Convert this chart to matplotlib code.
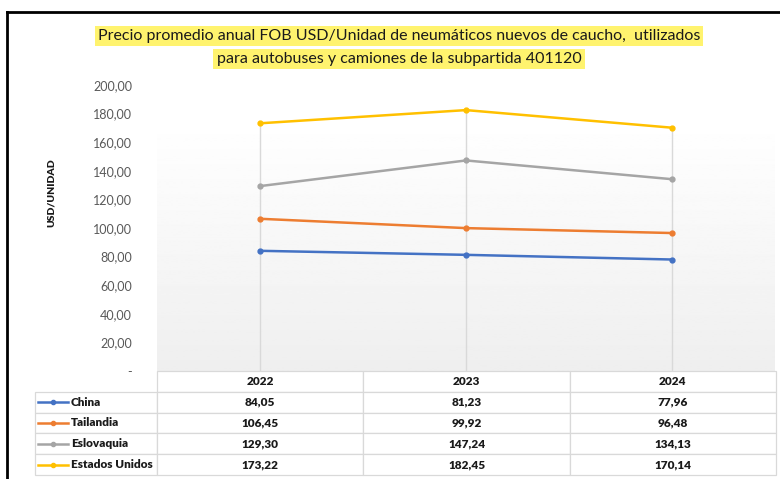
import matplotlib
matplotlib.use("Agg")
import matplotlib.pyplot as plt
import numpy as np
from matplotlib.lines import Line2D

years = ["2022", "2023", "2024"]
paises = ["China", "Tailandia", "Eslovaquia", "Estados Unidos"]
china = [84.05, 81.23, 77.96]
tailandia = [106.45, 99.92, 96.48]
eslovaquia = [129.30, 147.24, 134.13]
eeuu = [173.22, 182.45, 170.14]
colores = ["#4472c4", "#ed7d31", "#a5a5a5", "#ffc000"]
yticks = [0, 20, 40, 60, 80, 100, 120, 140, 160, 180, 200]

titulo1 = "Precio promedio anual FOB USD/Unidad de neumáticos nuevos de caucho,  utilizados"
titulo2 = "para autobuses y camiones de la subpartida 401120"

plt.rcParams['font.family'] = ['Lato', 'DejaVu Sans']

W, H = 780, 479
fig = plt.figure(figsize=(W / 100, H / 100), dpi=100)

# area del grafico en pixeles
x0, x1, ytop, ybot = 157, 775, 85, 371
ax = fig.add_axes([x0 / W, 1 - ybot / H, (x1 - x0) / W, (ybot - ytop) / H])

series = [china, tailandia, eslovaquia, eeuu]
x = np.arange(len(years))

# fondo degradado
grad = np.concatenate([np.ones(30), np.linspace(1.0, 0.935, 226)]).reshape(-1, 1)
ax.imshow(grad, extent=[-0.5, 2.5, 0, 200], aspect="auto", cmap="gray",
          vmin=0, vmax=1, zorder=0, origin="upper")

# lineas de caida
maximos = np.max(np.array(series), axis=0)
ax.vlines(x, 0, maximos, color="#d9d9d9", lw=1, zorder=1)

for vals, c in zip(series, colores):
    ax.plot(x, vals, color=c, lw=1.8, marker="o", ms=3.5, zorder=3)

ax.set_xlim(-0.5, 2.5)
ax.set_ylim(0, 200)
ax.set_yticks(yticks)
ax.set_yticklabels(["-" if v == 0 else f"{v:.2f}".replace(".", ",") for v in yticks],
                   fontsize=9, color="#595959")
ax.tick_params(axis="y", length=0, pad=18)
ax.set_xticks([])
for s in ax.spines.values():
    s.set_visible(False)

fig.text(51 / W, 1 - 193 / H, "USD/UNIDAD", rotation=90, fontsize=7.5,
         fontweight="heavy", color="#1a1a1a", ha="center", va="center")

# tabla de datos
tx0, tx1, tyb = 35, 776, 475
bbox = [(tx0 - x0) / (x1 - x0), (ybot - tyb) / (ybot - ytop),
        (tx1 - tx0) / (x1 - x0), (tyb - ybot) / (ybot - ytop)]
celdas = [[""] + [f"{v:.2f}".replace(".", ",") for v in vals] for vals in series]
tabla = ax.table(cellText=celdas, colLabels=[""] + years,
                 colWidths=[122, 206, 206, 206], bbox=bbox, cellLoc="center")
tabla.auto_set_font_size(False)
for (r, c), cell in tabla.get_celld().items():
    cell.set_edgecolor("#d9d9d9")
    cell.set_linewidth(0.9)
    cell.get_text().set_fontsize(8.5)
    cell.get_text().set_fontweight("heavy")
    cell.get_text().set_color("#1a1a1a")
    if r == 0 and c == 0:
        cell.visible_edges = ""

nfil = len(paises) + 1
alto = bbox[3] / nfil
for i, (p, c) in enumerate(zip(paises, colores)):
    yc = -(i + 1.5) * alto
    ax.add_line(Line2D([(38 - x0) / (x1 - x0), (68 - x0) / (x1 - x0)], [yc, yc],
                       color=c, lw=1.8, transform=ax.transAxes, clip_on=False))
    ax.add_line(Line2D([(53 - x0) / (x1 - x0)], [yc], marker="o", ms=3,
                       color=c, transform=ax.transAxes, clip_on=False))
    ax.text((71 - x0) / (x1 - x0), yc, p, transform=ax.transAxes, fontsize=8.5,
            fontweight="heavy", color="#1a1a1a", ha="left", va="center")

# titulo resaltado
for ty, t in [(36, titulo1), (59, titulo2)]:
    fig.text(399 / W, 1 - ty / H, t, ha="center", va="center", fontsize=11.5,
             color="#1a1a1a",
             bbox=dict(boxstyle="square,pad=0.2", facecolor="#fff36e", edgecolor="none"))

# marco negro
fig.add_artist(Line2D([7 / W, 1], [1 - 12 / H, 1 - 12 / H], color="black", lw=2,
                      transform=fig.transFigure))
fig.add_artist(Line2D([7 / W, 7 / W], [1 - 12 / H, 0], color="black", lw=2,
                      transform=fig.transFigure))

fig.savefig("out.png", dpi=100)
